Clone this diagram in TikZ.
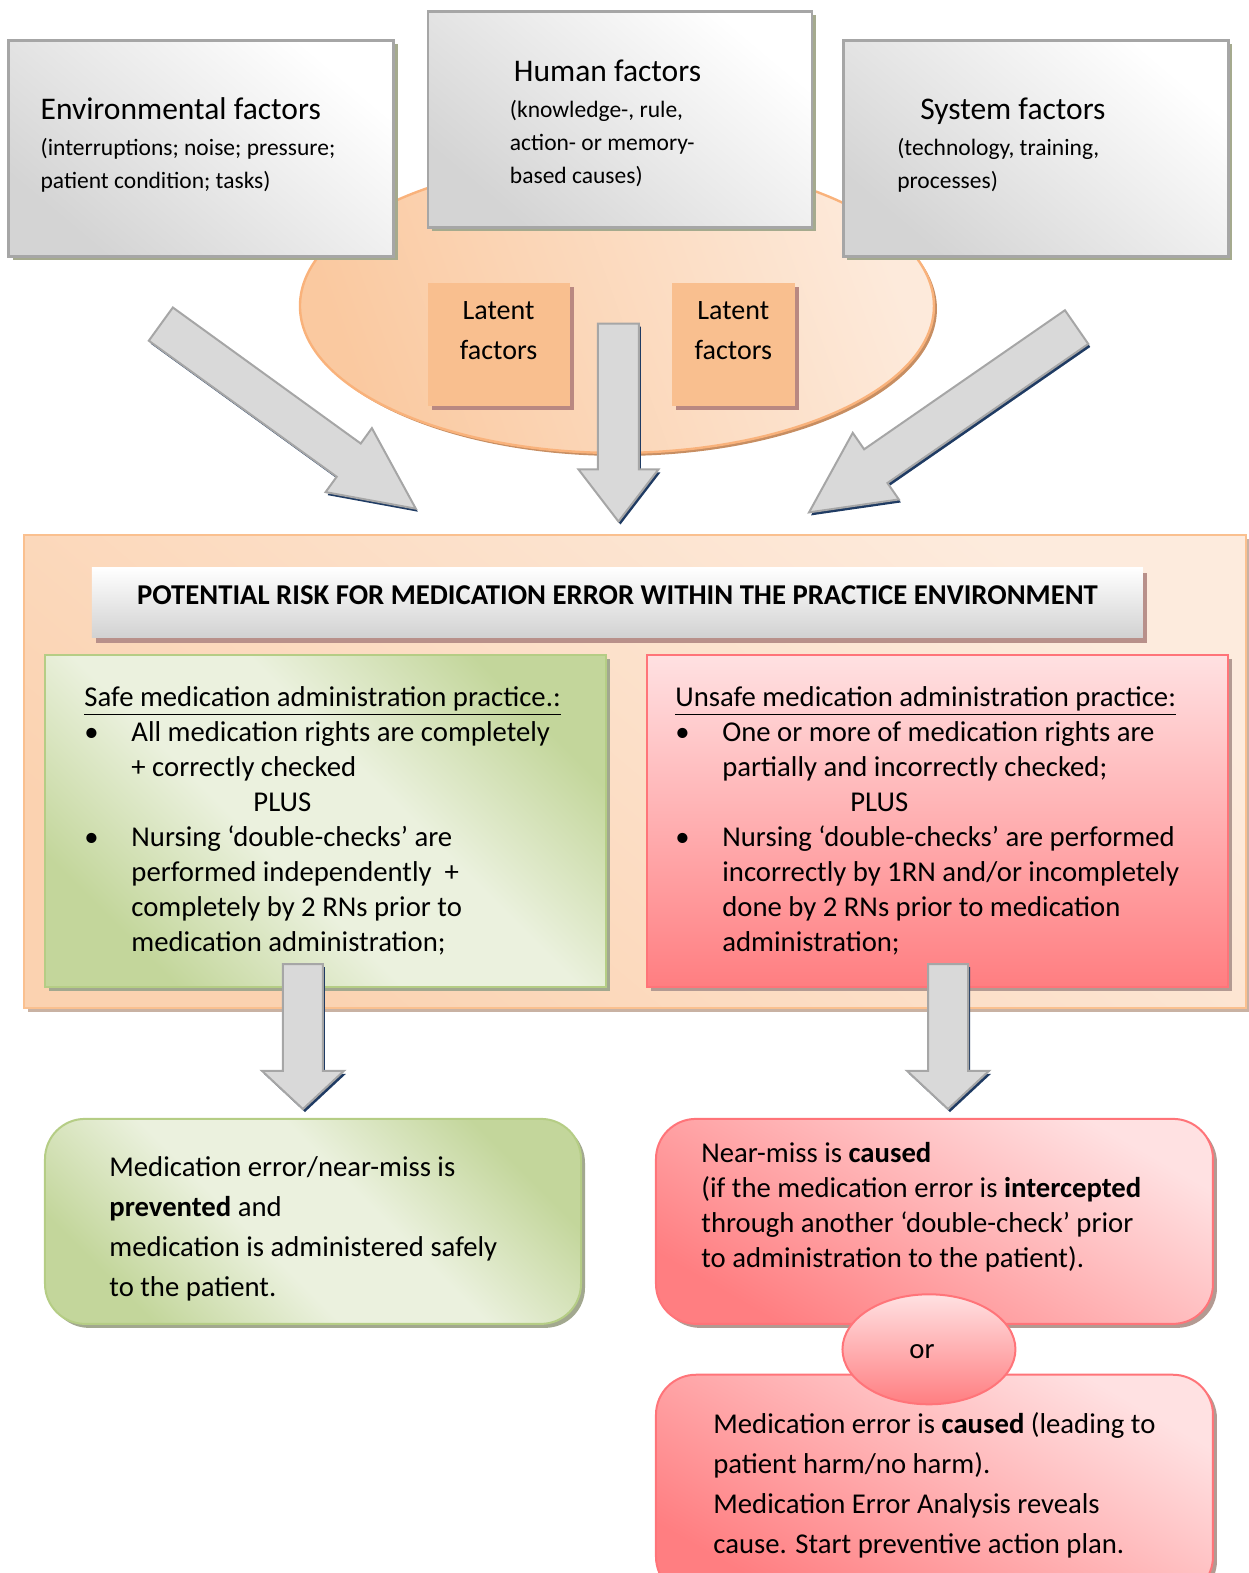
\documentclass[tikz,border=0pt]{standalone}
\usepackage{fontspec}
\setmainfont{Carlito}
\usetikzlibrary{shapes,arrows,positioning,shadows}

\definecolor{shgreen}{HTML}{A5AA8E}
\definecolor{ellbord}{HTML}{F9B27B}
\definecolor{elltop}{HTML}{FDEADB}
\definecolor{ellbot}{HTML}{FAC9A0}
\definecolor{latentfill}{HTML}{F9BF8F}
\definecolor{latentsh}{HTML}{B98881}
\definecolor{navy}{HTML}{1F3B63}
\definecolor{peachlight}{HTML}{FDEBDD}
\definecolor{peachdark}{HTML}{FBD2B0}
\definecolor{frameborder}{HTML}{FAC08F}
\definecolor{framesh}{HTML}{C9B2A3}
\definecolor{titlesh}{HTML}{B8908A}
\definecolor{grlight}{HTML}{EBF1DE}
\definecolor{grdark}{HTML}{C3D69B}
\definecolor{grborder}{HTML}{B5CD85}
\definecolor{grsh}{HTML}{A2A88F}
\definecolor{rdlight}{HTML}{FFE1E2}
\definecolor{rddark}{HTML}{FF7E81}
\definecolor{rdborder}{HTML}{FF7479}
\definecolor{rdsh}{HTML}{B39A92}
\pgfdeclarehorizontalshading{greenband}{100bp}{color(0bp)=(grdark); color(25bp)=(grdark); color(43bp)=(grlight); color(57bp)=(grlight); color(75bp)=(grdark); color(100bp)=(grdark)}
\newcommand{\blt}{\makebox[23.5pt][l]{\textbullet}}

\begin{document}
\begin{tikzpicture}[x=0.5016pt, y=-0.5016pt]
    % Define styles
    \tikzstyle{factor} = [rectangle, draw=black!35, line width=1.4pt, top color=white, bottom color=black!17, shading angle=-40, minimum width=192.5pt, minimum height=108pt, drop shadow={fill=shgreen, opacity=1, shadow xshift=2pt, shadow yshift=-2pt}]
    \tikzstyle{latent} = [rectangle, fill=latentfill, minimum width=71pt, minimum height=61.5pt, align=center, text depth=14pt, font=\fontsize{14}{20}\selectfont, drop shadow={fill=latentsh, opacity=1, shadow xshift=2pt, shadow yshift=-2pt}]
    \tikzstyle{blk} = [single arrow, anchor=tail, draw=black!35, fill=black!15, line width=1pt, inner xsep=0pt, drop shadow={fill=navy, opacity=1, shadow xshift=1pt, shadow yshift=-1.5pt}]
    \tikzstyle{txt} = [inner sep=0pt, align=left, font=\fontsize{14.35}{17.5}\selectfont]
    \tikzstyle{subtxt} = [inner sep=0pt, align=left, font=\fontsize{11.75}{16.5}\selectfont]
    \tikzstyle{redbox} = [rectangle, draw=rdborder, line width=1pt, top color=rdlight, bottom color=rddark, drop shadow={fill=rdsh, opacity=1, shadow xshift=2pt, shadow yshift=-2pt}]
    \tikzstyle{greenbox} = [rectangle, draw=grborder, line width=1pt, shading=greenband, shading angle=45, drop shadow={fill=grsh, opacity=1, shadow xshift=2pt, shadow yshift=-2pt}]

    \useasboundingbox (0,0) rectangle (1245,1568);
    \clip (0,0) rectangle (1245,1568);

    % Top part
    \node [ellipse, draw=ellbord, line width=1.2pt, top color=elltop, bottom color=ellbot, shading angle=-70, minimum width=317pt, minimum height=147pt, drop shadow={fill=ellbord!80!black, opacity=1, shadow xshift=1.5pt, shadow yshift=-1.5pt}] (pool) at (615,305) {};
    \node [factor] (env) at (200.5,148) {};
    \node [factor, minimum width=192pt] (human) at (618,119) {};
    \node [factor] (system) at (1032.5,148) {};
    \node [subtxt, right=16.5pt of env.west, yshift=1.65pt] (envText) {{\fontsize{15.75}{19}\selectfont Environmental factors}\\[1.5pt](interruptions; noise; pressure;\\patient condition; tasks)};
    \node [subtxt, right=41.5pt of human.west, yshift=-2pt] (humanText) {\hspace*{2pt}{\fontsize{15.75}{19}\selectfont Human factors}\\[1.5pt](knowledge-, rule,\\action- or memory-\\based causes)};
    \node [subtxt, right=27.5pt of system.west, yshift=1.65pt] (systemText) {\hspace*{11.5pt}{\fontsize{15.75}{19}\selectfont System factors}\\[1.5pt](technology, training,\\processes)};
    \node [latent] (latL) at (497,343.5) {Latent\\factors};
    \node [latent, minimum width=61.5pt] (latR) at (731,343.5) {Latent\\factors};

    % Arrows into the practice environment
    \node [blk, rotate=-35.9, minimum height=157.4pt, inner ysep=9.75pt, single arrow head extend=9.5pt, single arrow tip angle=51] (arrEnv) at (159.5,322.5) {};
    \node [blk, rotate=-90, minimum height=99pt, inner ysep=9.75pt, single arrow head extend=9.75pt, single arrow tip angle=75] (arrHuman) at (616.5,321.5) {};
    \node [blk, rotate=214.7, minimum height=162.75pt, inner ysep=9.75pt, single arrow head extend=10pt, single arrow tip angle=53] (arrSystem) at (1074,325.5) {};

    % Practice environment
    \node [rectangle, draw=frameborder, line width=1pt, top color=peachlight, bottom color=peachdark, shading angle=-40, minimum width=611pt, minimum height=236.5pt, drop shadow={fill=framesh, opacity=1, shadow xshift=2pt, shadow yshift=-2pt}] (risk) at (633,769.5) {};
    \node [rectangle, top color=white, bottom color=black!18, minimum width=525.5pt, minimum height=35pt, text depth=8pt, font=\bfseries\fontsize{14.35}{15}\selectfont, drop shadow={fill=titlesh, opacity=1, shadow xshift=2pt, shadow yshift=-2.5pt}] (riskTitle) at (615.5,601) {POTENTIAL RISK FOR MEDICATION ERROR WITHIN THE PRACTICE ENVIRONMENT};
    \node [greenbox, minimum width=280.5pt, minimum height=166pt] (safe) at (324.5,818) {};
    \node [redbox, minimum width=290.5pt, minimum height=166pt] (unsafe) at (934.5,818) {};
    \node [txt, right=20pt of safe.west, yshift=-0.2pt] (safeText) {\underline{Safe medication administration practice.:}\\
        \blt All medication rights are completely\\
        \hspace*{23.5pt}+ correctly checked\\
        \hspace*{84.5pt}PLUS\\
        \blt Nursing ‘double-checks’ are\\
        \hspace*{23.5pt}performed independently\ \ +\\
        \hspace*{23.5pt}completely by 2 RNs prior to\\
        \hspace*{23.5pt}medication administration;};
    \node [txt, right=14.5pt of unsafe.west, yshift=-0.2pt] (unsafeText) {\underline{Unsafe medication administration practice:}\\
        \blt One or more of medication rights are\\
        \hspace*{23.5pt}partially and incorrectly checked;\\
        \hspace*{87.5pt}PLUS\\
        \blt Nursing ‘double-checks’ are performed\\
        \hspace*{23.5pt}incorrectly by 1RN and/or incompletely\\
        \hspace*{23.5pt}done by 2 RNs prior to medication\\
        \hspace*{23.5pt}administration;};

    % Outcomes
    \node [greenbox, rounded corners=20pt, minimum width=268pt, minimum height=102.5pt] (prevented) at (312,1217.5) {};
    \node [redbox, rounded corners=20pt, shading angle=-30, minimum width=278.5pt, minimum height=102.5pt] (nearMiss) at (931.5,1217.5) {};
    \node [redbox, rounded corners=20pt, shading angle=-30, minimum width=278.5pt, minimum height=111pt] (harm) at (931.5,1481) {};
    \node [ellipse, draw=rdborder, line width=1pt, top color=rdlight, bottom color=rddark, minimum width=86.5pt, minimum height=55pt, text height=8.8pt, font=\fontsize{14.35}{15}\selectfont] (orNode) at (926,1345) {or\hspace*{7pt}};
    \node [txt, font=\fontsize{14.35}{20}\selectfont, right=32.5pt of prevented.west, yshift=-3.75pt] (preventedText) {Medication error/near-miss is\\\textbf{prevented} and\\medication is administered safely\\to the patient.};
    \node [txt, right=23pt of nearMiss.west, yshift=7pt] (nearMissText) {Near-miss is \textbf{caused}\\(if the medication error is \textbf{intercepted}\\through another ‘double-check’ prior\\to administration to the patient).};
    \node [txt, font=\fontsize{14.35}{20}\selectfont, right=29pt of harm.west] (harmText) {Medication error is \textbf{caused} (leading to\\patient harm/no harm).\\Medication Error Analysis reveals\\cause. Start preventive action plan.};

    % Arrows to the outcomes
    \node [blk, rotate=-90, minimum height=72.5pt, inner ysep=9.5pt, single arrow head extend=10.5pt, single arrow tip angle=94] (arrSafe) at (302,960) {};
    \node [blk, rotate=-90, minimum height=72.5pt, inner ysep=9.5pt, single arrow head extend=10.5pt, single arrow tip angle=94] (arrUnsafe) at (945,960) {};
\end{tikzpicture}
\end{document}
